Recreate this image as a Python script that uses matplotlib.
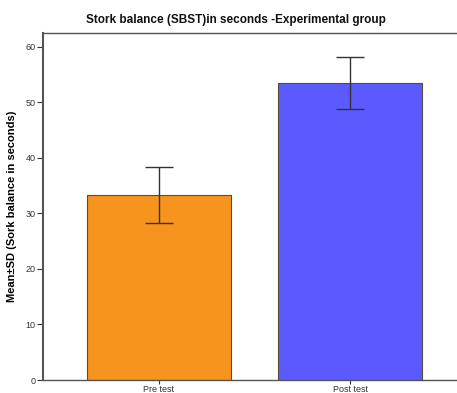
import matplotlib
matplotlib.use('Agg')
import matplotlib.pyplot as plt

# data
groups = ['Pre test', 'Post test']
means = [33.3, 53.5]
sds = [5.0, 4.7]
colors = ['#F7941D', '#5A5AFF']
y_ticks = [0, 10, 20, 30, 40, 50, 60]

plt.rcParams['font.family'] = ['Liberation Sans', 'DejaVu Sans']

fig = plt.figure(figsize=(4.57, 3.93), dpi=100)
ax = fig.add_axes([43 / 457, 13 / 393, (457 - 43) / 457, (380 - 33) / 393])

x = range(len(groups))
ax.bar(x, means, width=0.754, color=colors, edgecolor='#5a4a3a', linewidth=0.8, zorder=2)
ax.errorbar(x, means, yerr=sds, fmt='none', ecolor='#333333', elinewidth=1.0,
            capsize=10, capthick=1.0, zorder=3)

ax.set_xlim(-0.607, 1.56)
ax.set_ylim(0, 62.5)
ax.set_xticks(list(x))
ax.set_xticklabels(groups)
ax.set_yticks(y_ticks)

for side in ['left', 'bottom', 'top']:
    ax.spines[side].set_color('#555555')
ax.spines['left'].set_linewidth(1.5)
ax.spines['bottom'].set_linewidth(1.0)
ax.spines['top'].set_linewidth(1.0)
ax.spines['right'].set_visible(False)

ax.tick_params(axis='y', labelsize=6.5, colors='#333333', length=4, width=0.8, pad=1.5)
ax.tick_params(axis='x', labelsize=6.5, colors='#333333', length=3, width=0.8, pad=0.5)

ax.set_ylabel('Mean\u00b1SD (Sork balance in seconds)', fontsize=8, fontweight='bold',
              labelpad=6)

fig.text(235.5 / 457, 1 - 20 / 393, 'Stork balance (SBST)in seconds -Experimental group',
         ha='center', va='center', fontsize=8.5, fontweight='bold', color='#111111')

fig.savefig('out.png', dpi=100)
